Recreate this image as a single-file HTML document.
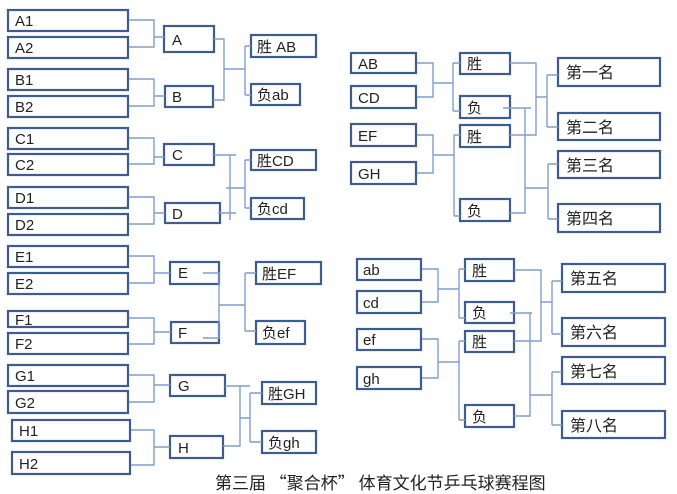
<!DOCTYPE html>
<html><head><meta charset="utf-8"><style>
html,body{margin:0;padding:0;background:#fff;}
svg{display:block;}
text{font-family:"Liberation Sans","Noto Sans CJK SC",sans-serif;fill:#222;}
.b{fill:#fff;stroke:#3d5d8f;stroke-width:2.2;}
.l{fill:none;stroke:#7f9fcc;stroke-width:1.4;}
</style></head><body>
<svg width="677" height="494" viewBox="0 0 677 494" xmlns="http://www.w3.org/2000/svg">
<g font-size="15">
<rect class="b" x="8" y="10" width="120" height="21"/><text x="15" y="26">A1</text>
<rect class="b" x="8" y="37" width="120" height="21"/><text x="15" y="53">A2</text>
<rect class="b" x="8" y="69" width="120" height="21"/><text x="15" y="85">B1</text>
<rect class="b" x="8" y="96" width="120" height="21"/><text x="15" y="112">B2</text>
<rect class="b" x="8" y="128" width="120" height="21"/><text x="15" y="144">C1</text>
<rect class="b" x="8" y="154" width="120" height="21"/><text x="15" y="170">C2</text>
<rect class="b" x="8" y="187" width="120" height="21"/><text x="15" y="203">D1</text>
<rect class="b" x="8" y="214" width="120" height="21"/><text x="15" y="230">D2</text>
<rect class="b" x="8" y="246" width="120" height="21"/><text x="15" y="262">E1</text>
<rect class="b" x="8" y="273" width="120" height="21"/><text x="15" y="289">E2</text>
<rect class="b" x="8" y="311" width="120" height="16"/><text x="15" y="325">F1</text>
<rect class="b" x="8" y="333" width="120" height="21"/><text x="15" y="349">F2</text>
<rect class="b" x="8" y="365" width="120" height="21"/><text x="15" y="381">G1</text>
<rect class="b" x="8" y="391" width="120" height="22"/><text x="15" y="408">G2</text>
<rect class="b" x="12" y="420" width="118" height="21"/><text x="19" y="436">H1</text>
<rect class="b" x="12" y="452" width="118" height="22"/><text x="19" y="469">H2</text>
<rect class="b" x="164" y="26" width="50" height="26"/><text x="172" y="45">A</text>
<rect class="b" x="165" y="86" width="48" height="21"/><text x="172" y="102">B</text>
<rect class="b" x="164" y="144" width="50" height="21"/><text x="172" y="160">C</text>
<rect class="b" x="165" y="203" width="55" height="20"/><text x="172" y="219">D</text>
<rect class="b" x="170" y="262" width="49" height="22"/><text x="178" y="278">E</text>
<rect class="b" x="171" y="322" width="48" height="21"/><text x="178" y="338">F</text>
<rect class="b" x="170" y="375" width="55" height="21"/><text x="178" y="391">G</text>
<rect class="b" x="170" y="436" width="53" height="22"/><text x="178" y="453">H</text>
<rect class="b" x="251" y="35" width="65" height="22"/><text x="257" y="52">胜 AB</text>
<rect class="b" x="251" y="84" width="49" height="21"/><text x="257" y="100">负ab</text>
<rect class="b" x="251" y="150" width="65" height="20"/><text x="257" y="166">胜CD</text>
<rect class="b" x="251" y="198" width="53" height="21"/><text x="257" y="214">负cd</text>
<rect class="b" x="256" y="262" width="65" height="22"/><text x="262" y="279">胜EF</text>
<rect class="b" x="256" y="321" width="49" height="23"/><text x="262" y="338">负ef</text>
<rect class="b" x="262" y="382" width="54" height="22"/><text x="268" y="399">胜GH</text>
<rect class="b" x="262" y="431" width="54" height="22"/><text x="268" y="448">负gh</text>
<rect class="b" x="351" y="53" width="65" height="20"/><text x="358" y="69">AB</text>
<rect class="b" x="351" y="86" width="65" height="22"/><text x="358" y="103">CD</text>
<rect class="b" x="351" y="124" width="65" height="22"/><text x="358" y="141">EF</text>
<rect class="b" x="351" y="162" width="65" height="22"/><text x="358" y="179">GH</text>
<rect class="b" x="460" y="53" width="50" height="21"/><text x="467" y="69">胜</text>
<rect class="b" x="460" y="96" width="50" height="22"/><text x="467" y="113">负</text>
<rect class="b" x="460" y="125" width="50" height="22"/><text x="467" y="142">胜</text>
<rect class="b" x="460" y="199" width="50" height="22"/><text x="467" y="216">负</text>
<g font-size="16">
<rect class="b" x="558" y="58" width="102" height="28"/><text x="566" y="78">第一名</text>
<rect class="b" x="558" y="113" width="102" height="27"/><text x="566" y="133">第二名</text>
<rect class="b" x="558" y="151" width="102" height="27"/><text x="566" y="171">第三名</text>
<rect class="b" x="558" y="204" width="102" height="28"/><text x="566" y="224">第四名</text>
</g>
<rect class="b" x="357" y="259" width="64" height="21"/><text x="363" y="275">ab</text>
<rect class="b" x="357" y="291" width="64" height="22"/><text x="363" y="308">cd</text>
<rect class="b" x="357" y="329" width="64" height="21"/><text x="363" y="345">ef</text>
<rect class="b" x="357" y="367" width="64" height="22"/><text x="363" y="384">gh</text>
<rect class="b" x="465" y="259" width="49" height="22"/><text x="472" y="276">胜</text>
<rect class="b" x="465" y="302" width="49" height="21"/><text x="472" y="318">负</text>
<rect class="b" x="465" y="331" width="49" height="21"/><text x="472" y="347">胜</text>
<rect class="b" x="465" y="405" width="49" height="22"/><text x="472" y="422">负</text>
<g font-size="16">
<rect class="b" x="562" y="264" width="103" height="28"/><text x="570" y="284">第五名</text>
<rect class="b" x="562" y="318" width="103" height="28"/><text x="570" y="338">第六名</text>
<rect class="b" x="562" y="357" width="103" height="27"/><text x="570" y="377">第七名</text>
<rect class="b" x="562" y="411" width="103" height="27"/><text x="570" y="431">第八名</text>
</g>
</g>
<path class="l" d="M129 20H154V47H129M154 37H164
M129 79H154V106H129M154 96H165
M214 39H224V100H213M224 69H245M245 46V95M245 46H251M245 95H251
M129 138H154V164H129M154 157H164
M129 197H154V224H129M154 213H165
M214 155H236M218 213H236M230 155V220M226 188H245M245 160V208M245 160H251M245 208H251
M129 256H154V283H129M154 273H170
M129 318H154V344H129M154 332H171
M203 273H219V338H203M219 305H245M245 273V331M245 273H256M245 331H256
M129 375H154V402H129M154 385H170
M131 430H154V465H131M154 447H170
M225 386H250M240 386V446H223M240 418H250M250 393V442M250 393H262M250 442H262"/>
<path class="l" d="M417 63H433V97H417M433 83H453M453 63V111M453 63H460M453 111H460
M417 135H433V173H417M433 155H454M454 135V216M454 135H460M454 216H460
M510 63H536V135H510M536 97H547M547 75V127M547 75H558M547 127H558
M503 108H531M525 108V213H510M525 188H548M548 164V219M548 164H558M548 219H558"/>
<path class="l" d="M422 269H438V302H422M438 289H459M459 269V318M459 269H465M459 318H465
M422 339H438V378H422M438 362H459M459 341V420M459 341H465M459 420H465
M514 270H541V341H514M541 302H552M552 281V334M552 281H562M552 334H562
M510 313H532M530 313V416H514M530 395H552M552 372V425M552 372H562M552 425H562"/>
<text x="215" y="489" font-size="17" style="font-family:'Noto Sans CJK SC',sans-serif">第三届 “聚合杯” 体育文化节乒乓球赛程图</text>
</svg>
</body></html>
